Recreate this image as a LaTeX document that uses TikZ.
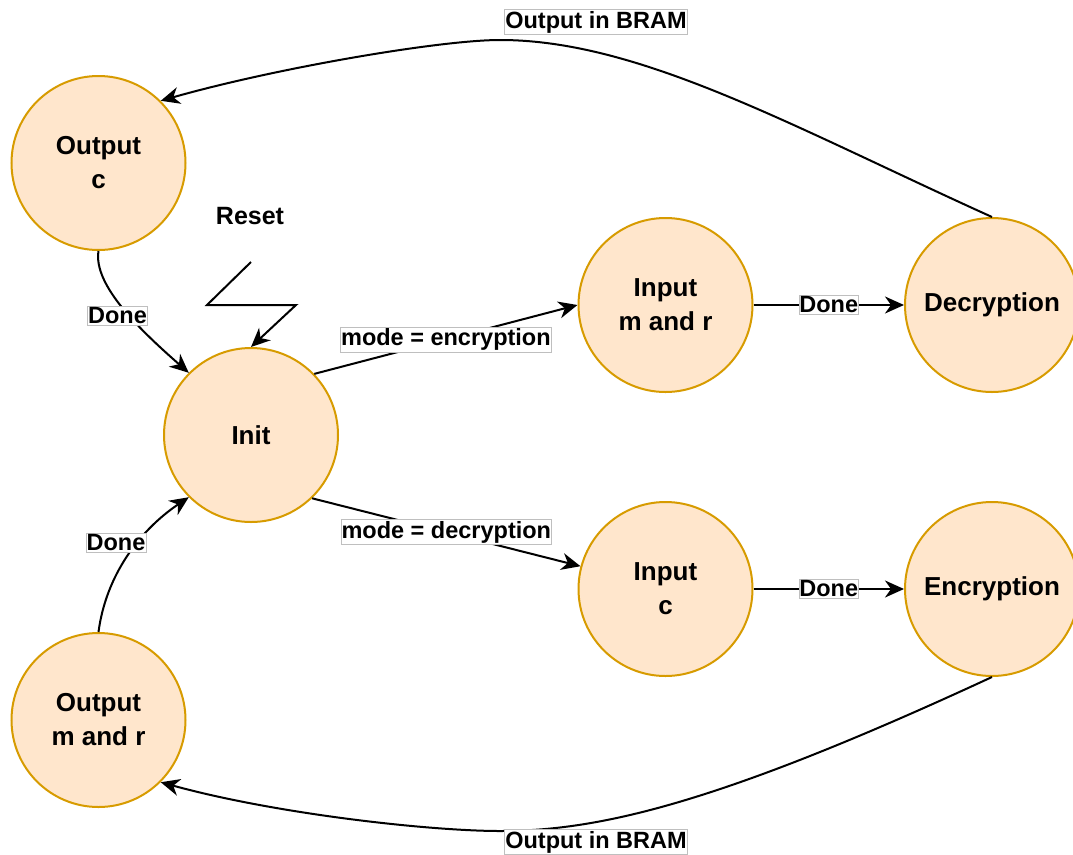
\documentclass[tikz,border=0pt]{standalone}
\usepackage{fontspec}
\setmainfont{Liberation Sans}
\usetikzlibrary{arrows.meta}
\definecolor{stfill}{HTML}{FFE6CC}
\definecolor{stdraw}{HTML}{D79B00}
\begin{document}
\begin{tikzpicture}[x=1pt,y=1pt,
  state/.style={circle, draw=stdraw, fill=stfill, line width=2pt,
    minimum size=174pt, inner sep=0pt, align=center,
    font=\fontsize{26}{34}\selectfont\bfseries},
  edge/.style={line width=2pt, -{Stealth[length=19pt,width=17pt,inset=6pt]}},
  lbl/.style={fill=white, draw=black!25, line width=0.7pt, inner xsep=0.5pt,
    inner ysep=1.5pt, font=\fontsize{23.5}{27}\selectfont\bfseries, text=black},
]
\useasboundingbox (0,0) rectangle (1073,-854);

% states
\node[state] (oc)   at (98.5,-163)  {Output\\c};
\node[state] (init) at (251,-435)   {Init};
\node[state] (imr)  at (665.5,-305) {Input\\m and r};
\node[state] (dec)  at (992,-305)   {Decryption};
\node[state] (ic)   at (665.5,-589) {Input\\c};
\node[state] (enc)  at (992,-589)   {Encryption};
\node[state] (omr)  at (98.5,-720)  {Output\\m and r};

% reset signal
\node[font=\fontsize{25}{30}\selectfont\bfseries] (reset) at (250,-216) {Reset};
\coordinate (rs) at (251,-262);
\draw[edge] (rs) -- (207,-305) -- (296,-305) -- (init.north);

% transitions out of Init
\draw[edge] (init.44) -- node[lbl] (lenc) {mode = encryption} (imr.west);
\draw[edge] (init.-46) -- node[lbl] (ldec) {mode = decryption} (ic.165);

% processing steps
\draw[edge] (imr) -- node[lbl] (ld1) {Done} (dec);
\draw[edge] (ic) -- node[lbl] (ld2) {Done} (enc);

% results written back
\draw[edge] (dec.north) .. controls (793,-127) and (640,-40) .. (500,-40)
  .. controls (440,-40) and (276,-68) .. (oc.45);
\node[lbl] (lbt) at (596,-22) {Output in BRAM};

\draw[edge] (enc.south) .. controls (720,-803) and (600,-831) .. (500,-831)
  .. controls (430,-831) and (276,-814) .. (omr.-45);
\node[lbl] (lbb) at (596,-842) {Output in BRAM};

% back to Init
\draw[edge] (oc.south) .. controls (93,-285) and (140,-330) .. (init.135);
\node[lbl] (ldo1) at (117.5,-316) {Done};
\draw[edge] (omr.north) .. controls (106,-575) and (140,-530) .. (init.-135);
\node[lbl] (ldo2) at (116,-543) {Done};
\end{tikzpicture}
\end{document}
